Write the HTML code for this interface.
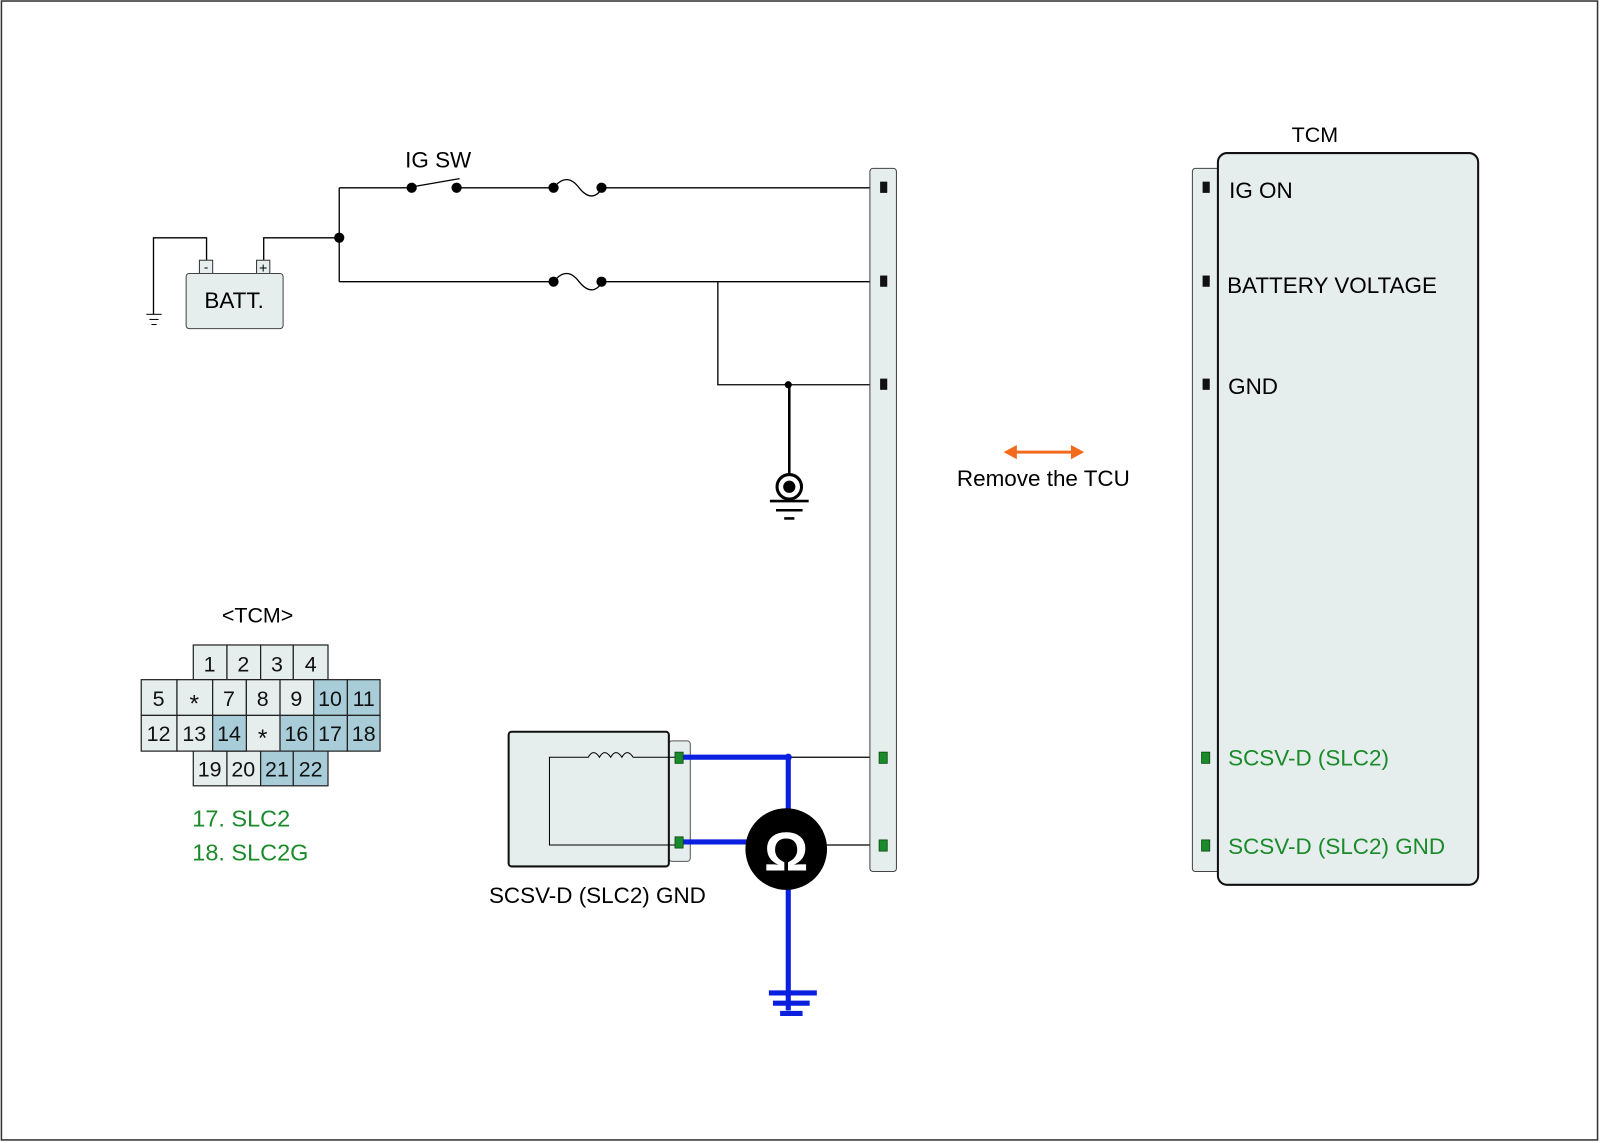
<!DOCTYPE html>
<html><head><meta charset="utf-8"><style>html,body{margin:0;padding:0;background:#fff}svg{display:block}</style></head>
<body>
<svg width="1600" height="1143" viewBox="0 0 1567 1120" xmlns="http://www.w3.org/2000/svg" font-family="Liberation Sans, sans-serif">
<rect x="1" y="1" width="1564" height="1116" fill="#fff" stroke="#333" stroke-width="1.5"/>
<g stroke="#000" stroke-width="1.3" fill="none">
<polyline points="150,308 150,233 202,233 202,255"/>
<polyline points="258,255 258,233 332,233"/>
<polyline points="332,184 332,276"/>
<line x1="332" y1="184" x2="402" y2="184"/>
<line x1="404" y1="183" x2="450" y2="175"/>
<line x1="447" y1="184" x2="542" y2="184"/>
<path d="M542,184 Q555,168 567,184 Q580,200 590,184"/>
<line x1="590" y1="184" x2="866" y2="184"/>
<line x1="332" y1="276" x2="542" y2="276"/>
<path d="M542,276 Q555,260 567,276 Q580,292 590,276"/>
<line x1="590" y1="276" x2="866" y2="276"/>
<polyline points="703,276 703,377 866,377"/>
<line x1="773" y1="377" x2="773" y2="465" stroke-width="2.5"/>
<line x1="772" y1="742" x2="866" y2="742"/>
<line x1="800" y1="828" x2="866" y2="828"/>
</g>
<g stroke="#000" stroke-width="1"><line x1="143" y1="308" x2="158" y2="308"/><line x1="146" y1="313" x2="155" y2="313"/><line x1="148" y1="318" x2="153" y2="318"/></g>
<g fill="#000"><circle cx="332" cy="233" r="5"/><circle cx="403" cy="184" r="5"/><circle cx="447" cy="184" r="5"/><circle cx="542" cy="184" r="5"/><circle cx="589" cy="184" r="5"/><circle cx="542" cy="276" r="5"/><circle cx="589" cy="276" r="5"/><circle cx="772" cy="377" r="3.5"/></g>
<rect x="195" y="255" width="13" height="13" fill="#e6eded" stroke="#333"/>
<rect x="251" y="255" width="13" height="13" fill="#e6eded" stroke="#333"/>
<text x="201.5" y="266" font-size="13" text-anchor="middle">-</text>
<text x="257.5" y="267" font-size="14" text-anchor="middle">+</text>
<rect x="182" y="268" width="95" height="54" rx="3" fill="#e6eded" stroke="#444"/>
<text x="229" y="302" font-size="22" text-anchor="middle">BATT.</text>
<text x="429" y="164" font-size="22" text-anchor="middle">IG SW</text>
<circle cx="773" cy="477" r="12" fill="#fff" stroke="#000" stroke-width="3"/>
<circle cx="773" cy="477" r="6" fill="#000"/>
<g stroke="#000" stroke-width="2.5"><line x1="754" y1="491" x2="792" y2="491"/><line x1="760" y1="500" x2="786" y2="500"/><line x1="768" y1="508" x2="778" y2="508"/></g>
<rect x="852" y="165" width="26" height="689" rx="3" fill="#e6eded" stroke="#444"/>
<g fill="#111"><rect x="862" y="178" width="7" height="11"/><rect x="862" y="270" width="7" height="11"/><rect x="862" y="371" width="7" height="11"/></g>
<g fill="#1a8a2a" stroke="#0a4a10" stroke-width="0.8"><rect x="861" y="737" width="8" height="11"/><rect x="861" y="823" width="8" height="11"/></g>
<g stroke="#f26b1d" stroke-width="3"><line x1="993" y1="443" x2="1052" y2="443"/></g>
<polygon points="983,443 996,436 996,450" fill="#f26b1d"/><polygon points="1062,443 1049,436 1049,450" fill="#f26b1d"/>
<text x="1022" y="476" font-size="22" text-anchor="middle">Remove the TCU</text>
<text x="1288" y="139" font-size="21" text-anchor="middle">TCM</text>
<rect x="1168" y="165" width="30" height="689" rx="3" fill="#e6eded" stroke="#444"/>
<rect x="1193" y="150" width="255" height="717" rx="9" fill="#e6eded" stroke="#111" stroke-width="2"/>
<g fill="#111"><rect x="1178" y="178" width="7" height="11"/><rect x="1178" y="270" width="7" height="11"/><rect x="1178" y="371" width="7" height="11"/></g>
<g fill="#1a8a2a" stroke="#0a4a10" stroke-width="0.8"><rect x="1177" y="737" width="8" height="11"/><rect x="1177" y="823" width="8" height="11"/></g>
<g font-size="22"><text x="1204" y="194">IG ON</text><text x="1202" y="287">BATTERY VOLTAGE</text><text x="1203" y="386">GND</text></g>
<g font-size="22" fill="#1a8a2a"><text x="1203" y="750">SCSV-D (SLC2)</text><text x="1203" y="837">SCSV-D (SLC2) GND</text></g>
<rect x="655" y="726" width="21" height="118" rx="3" fill="#e6eded" stroke="#555"/>
<rect x="498" y="717" width="157" height="132" rx="3" fill="#e6eded" stroke="#111" stroke-width="2"/>
<g stroke="#000" stroke-width="1" fill="none">
<polyline points="665,742 648,742 635,742"/>
<path d="M566,742 h10 q5,-9 11,0 q5,-9 11,0 q5,-9 11,0 q5,-9 11,0 h15"/>
<polyline points="566,742 538,742 538,828 665,828"/>
</g>
<g stroke="#0b1fe0" stroke-width="5" fill="none">
<polyline points="666,742 772,742 772,990"/>
<line x1="666" y1="825" x2="740" y2="825"/>
<line x1="753" y1="973" x2="800" y2="973"/><line x1="757" y1="983" x2="793" y2="983"/><line x1="764" y1="993" x2="786" y2="993"/>
</g>
<circle cx="772" cy="742" r="3.5" fill="#0b1fe0"/>
<g fill="#1a8a2a" stroke="#0a4a10" stroke-width="0.8"><rect x="661" y="737" width="8" height="11"/><rect x="661" y="820" width="8" height="11"/></g>
<circle cx="770" cy="832" r="40" fill="#000"/>
<text x="770" y="853" font-size="54" font-weight="bold" fill="#fff" text-anchor="middle">Ω</text>
<text x="585" y="885" font-size="22" text-anchor="middle">SCSV-D (SLC2) GND</text>
<text x="252" y="610" font-size="21" text-anchor="middle">&lt;TCM&gt;</text>
<g stroke="#222" stroke-width="1.2">
<g fill="#e6eded">
<rect x="189" y="632" width="33" height="34"/><rect x="222" y="632" width="33" height="34"/><rect x="255" y="632" width="32" height="34"/><rect x="287" y="632" width="34" height="34"/>
<rect x="138" y="666" width="35" height="35"/><rect x="173" y="666" width="35" height="35"/><rect x="208" y="666" width="33" height="35"/><rect x="241" y="666" width="33" height="35"/><rect x="274" y="666" width="33" height="35"/>
<rect x="138" y="701" width="35" height="35"/><rect x="173" y="701" width="35" height="35"/><rect x="241" y="701" width="33" height="35"/>
<rect x="189" y="736" width="33" height="34"/><rect x="222" y="736" width="33" height="34"/>
</g>
<g fill="#a8cdd9">
<rect x="307" y="666" width="33" height="35"/><rect x="340" y="666" width="32" height="35"/>
<rect x="208" y="701" width="33" height="35"/><rect x="274" y="701" width="33" height="35"/><rect x="307" y="701" width="33" height="35"/><rect x="340" y="701" width="32" height="35"/>
<rect x="255" y="736" width="32" height="34"/><rect x="287" y="736" width="34" height="34"/>
</g>
</g>
<g font-size="21" text-anchor="middle" fill="#111">
<text x="205" y="658">1</text><text x="238" y="658">2</text><text x="271" y="658">3</text><text x="304" y="658">4</text>
<text x="155" y="692">5</text><text x="190" y="697" font-size="24">*</text><text x="224" y="692">7</text><text x="257" y="692">8</text><text x="290" y="692">9</text><text x="323" y="692">10</text><text x="356" y="692">11</text>
<text x="155" y="726">12</text><text x="190" y="726">13</text><text x="224" y="726">14</text><text x="257" y="731" font-size="24">*</text><text x="290" y="726">16</text><text x="323" y="726">17</text><text x="356" y="726">18</text>
<text x="205" y="761">19</text><text x="238" y="761">20</text><text x="271" y="761">21</text><text x="304" y="761">22</text>
</g>
<g font-size="23" fill="#1a8a2a"><text x="188" y="810">17. SLC2</text><text x="188" y="843">18. SLC2G</text></g>
</svg>
</body></html>
